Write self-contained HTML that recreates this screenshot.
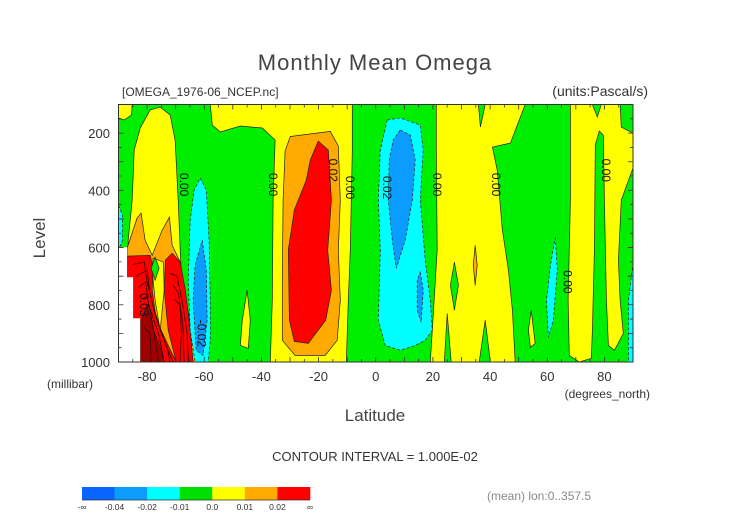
<!DOCTYPE html>
<html><head><meta charset="utf-8"><style>
body{margin:0;background:#fff;}
svg{display:block;font-family:"Liberation Sans",sans-serif;}
</style></head><body>
<svg id="chart" width="752" height="532" viewBox="0 0 752 532">
<text x="375" y="70" font-size="22" fill="#444" text-anchor="middle" letter-spacing="1">Monthly Mean Omega</text>
<text x="122" y="96" font-size="12" fill="#333">[OMEGA_1976-06_NCEP.nc]</text>
<text x="648" y="96" font-size="14" fill="#333" text-anchor="end">(units:Pascal/s)</text>
<text transform="translate(45,238) rotate(-90)" font-size="17" fill="#444" text-anchor="middle">Level</text>
<text x="47" y="388" font-size="12" fill="#333">(millibar)</text>
<text x="375" y="421" font-size="17" fill="#444" text-anchor="middle">Latitude</text>
<text x="650" y="398" font-size="12" fill="#333" text-anchor="end">(degrees_north)</text>
<text x="375" y="461" font-size="13" fill="#333" text-anchor="middle">CONTOUR INTERVAL = 1.000E-02</text>
<text x="487" y="500" font-size="12" fill="#888">(mean) lon:0..357.5</text>
<g id="plot"></g>
<g id="axes"></g>
<g id="cbar"></g>
</svg>
<script>
const latTicks=[-80,-60,-40,-20,0,20,40,60,80];
const levelTicks=[200,400,600,800,1000];
const cbarLabels=["-∞","-0.04","-0.02","-0.01","0.0","0.01","0.02","∞"];
const cbarColors=["#0a64ff","#0a9cff","#00ffff","#00e000","#ffff00","#ffaa00","#ff0000"];
const C={y:"#ffff00",o:"#ffaa00",r:"#ff0000",c:"#00ffff",b:"#0a9cff",g:"#00ee00",w:"#ffffff"};
// contour regions: [lat, level]
const regYellowTL=[[-90,100],[-85.2,100],[-85.5,137],[-88,154],[-90,147]];
const regCyanEdge=[[-90,452],[-88.6,487],[-88.6,574],[-90,609]];
const regYellowA=[[-82.4,182],[-78.9,119],[-75.4,109],[-71.9,137],[-70.2,224],[-69.1,434],[-68.4,609],[-67.7,749],[-66.3,889],[-64.2,977],[-63.5,1000],[-82.4,1000],[-84.9,784],[-86.6,679],[-86.6,574],[-85.2,434],[-84.5,259]];
const regOrangeA=[[-87,602],[-83.5,497],[-82.1,480],[-80.7,574],[-78.2,627],[-74.7,539],[-72.2,494],[-71.2,592],[-68.4,651],[-66.3,784],[-63.9,924],[-62.5,1000],[-87,1000]];
const regYellowDip=[[-77.9,637],[-74.3,651],[-74,749],[-75.4,889],[-77.2,784],[-78.2,679]];
const regRed1=[[-87,630],[-78.9,627],[-77.9,672],[-78.2,749],[-77.2,826],[-75.4,882],[-72.6,942],[-69.8,1000],[-87,1000]];
const regRed2=[[-73.6,644],[-71.2,620],[-68.4,651],[-66.6,749],[-64.9,889],[-63.9,1000],[-69.8,1000],[-72.6,889],[-74,749]];
const regGreenDiamond=[[-77.2,634],[-75.8,672],[-77.2,714],[-78.6,672]];
const regCyanL=[[-61.4,357],[-59.3,399],[-58.3,574],[-57.9,784],[-57.9,924],[-58.6,1000],[-63.2,1000],[-64.9,889],[-65.6,714],[-64.9,504],[-63.5,399]];
const regBlueL=[[-60.7,574],[-59.3,679],[-59,854],[-60.4,977],[-62.8,959],[-63.9,784],[-63.2,662]];
const regYellowTongue=[[-45,749],[-43.9,854],[-44.6,952],[-47.4,942],[-46.7,854]];
const regYellowB=[[-57.9,100],[-8.2,100],[-8.2,259],[-8.9,609],[-9.6,784],[-10.3,1000],[-36.9,1000],[-36.2,784],[-35.9,434],[-35.2,224],[-39.7,182],[-47.4,175],[-54.4,196],[-57.2,172]];
const regOrangeB=[[-29.9,212],[-15.9,194],[-13.1,245],[-12.4,434],[-13.1,609],[-12.4,784],[-13.5,924],[-17.7,977],[-28.2,977],[-32.7,924],[-32.7,714],[-32.4,434],[-31.7,262]];
const regRedB=[[-20.1,228],[-16.6,259],[-15.5,434],[-16.8,609],[-15.5,749],[-17.5,854],[-23.6,935],[-28.5,928],[-30.2,854],[-30.6,609],[-28.5,469],[-24.3,364],[-22.9,294]];
const regCyanC=[[4,154],[8.6,147],[15.6,172],[16.6,259],[15.6,434],[17.3,644],[19.1,784],[19.8,889],[17.3,924],[13.8,942],[8.6,959],[3.3,942],[0.9,854],[1.6,609],[0.9,434],[1.6,259]];
const regBlueC=[[8.6,189],[12.1,207],[13.8,294],[12.8,434],[10.3,574],[7.2,672],[5.8,574],[4.4,434],[4.7,294],[6.1,224]];
const regBlueSmall=[[15.6,686],[16.6,749],[15.9,861],[14.5,819],[14.5,714]];
const regYellowC=[[21.2,100],[35.9,100],[36.6,179],[38.3,100],[52.3,100],[47.1,235],[40.8,249],[42.5,329],[44.3,539],[46.4,679],[47.8,819],[48.8,1000],[19.1,1000],[19.8,889],[21.5,609],[21.2,259]];
const regGreenC1=[[27.5,651],[28.9,732],[27.5,819],[26.1,732]];
const regGreenC2=[[25,830],[26.4,1000],[24,1000]];
const regGreenC3=[[38.3,854],[40.1,1000],[36.2,1000]];
const regOrangeSliver=[[34.8,592],[35.5,662],[34.8,732],[34.1,662]];
const regYellowSpike=[[54.4,819],[55.8,935],[54.1,949],[53.4,889]];
const regCyanSpike=[[62.8,564],[63.5,679],[62.1,854],[60.4,914],[59.7,784],[61.1,662]];
const regCyanRight=[[90,655],[90,1000],[88.4,1000],[88.4,784]];
const regYellowD=[[68.1,100],[75.8,100],[77.5,144],[78.9,100],[85.5,100],[85.9,179],[90,200],[90,322],[85.9,434],[84.9,644],[85.5,784],[86.6,900],[83.5,959],[81.4,942],[80.7,784],[80,434],[79.6,207],[78.2,193],[76.8,242],[76.5,609],[75.8,889],[75.4,987],[71.2,1000],[67.7,977],[67.3,784],[68.1,434]];
const regMissing=[[-90,599],[-87,599],[-87,704],[-84.9,704],[-84.9,847],[-82.4,847],[-82.4,1000],[-90,1000]];
const regDarkCore=[[-82.4,860],[-80,800],[-78,880],[-75,960],[-74,1000],[-82.4,1000]];
const denseA=[[-84,700],[-80,680],[-79,760],[-77,840],[-73,950],[-72,1000]];
const denseB=[[-83,740],[-80.5,720],[-79.5,800],[-76,900],[-74,1000]];
const denseC=[[-82,780],[-80,770],[-78,870],[-76,1000]];
const denseD=[[-72,690],[-69.5,700],[-67.5,800],[-66,900],[-65.5,1000]];
const denseE=[[-71,730],[-69,760],[-67.5,870],[-67,1000]];
const denseF=[[-81,880],[-79,900],[-78.5,1000]];
const denseG=[[-70.5,780],[-68.5,800],[-68,900],[-68.5,1000]];
const denseH=[[-85,660],[-81,650],[-80,720],[-78,800],[-75,900],[-71,1000]];
const labels=[[-67,380,"0.00"],[-36,380,"0.00"],[-15,330,"0.02"],[-9,390,"0.00"],[4,390,"0.02"],[21.5,380,"0.00"],[42,380,"0.00"],[67,720,"0.00"],[80.5,330,"0.00"],[-81,800,"0.03"],[-61,900,"-0.02"]];

const X0=118.5,X1=633,Y0=104.5,Y1=362;
function xs(lat){return X0+(lat+90)/180*(X1-X0);}
function ys(p){return Y0+(p-100)/900*(Y1-Y0);}
const NS="http://www.w3.org/2000/svg";
const plot=document.getElementById('plot');
function pts(a){return a.map(d=>xs(d[0]).toFixed(1)+","+ys(d[1]).toFixed(1)).join(" ");}
const bg=document.createElementNS(NS,'rect');
bg.setAttribute('x',X0);bg.setAttribute('y',Y0);bg.setAttribute('width',X1-X0);bg.setAttribute('height',Y1-Y0);bg.setAttribute('fill',C.g);


plot.appendChild(bg);
const layers=[[regYellowTL,C.y,0,'yellow-top-left'],[regCyanEdge,C.c,1,'cyan-edge'],[regYellowA,C.y,0,'yellow-region-a'],[regOrangeA,C.o,0,'orange-region-a'],[regYellowDip,C.y,0,'yellow-dip'],[regRed1,C.r,0,'red-region-1'],[regRed2,C.r,0,'red-region-2'],[regDarkCore,'#a00000',0,'dark-red-core'],[regGreenDiamond,C.g,0,'green-diamond'],[regCyanL,C.c,1,'cyan-region-left'],[regBlueL,C.b,1,'blue-region-left'],[regYellowTongue,C.y,0,'yellow-tongue'],[regYellowB,C.y,0,'yellow-region-b'],[regOrangeB,C.o,0,'orange-region-b'],[regRedB,C.r,0,'red-region-b'],[regCyanC,C.c,1,'cyan-region-c'],[regBlueC,C.b,1,'blue-region-c'],[regBlueSmall,C.b,1,'blue-small'],[regYellowC,C.y,0,'yellow-region-c'],[regGreenC1,C.g,0,'green-spike-1'],[regGreenC2,C.g,0,'green-spike-2'],[regGreenC3,C.g,0,'green-spike-3'],[regOrangeSliver,C.o,0,'orange-sliver'],[regYellowSpike,C.y,0,'yellow-spike'],[regCyanSpike,C.c,1,'cyan-spike'],[regCyanRight,C.c,1,'cyan-right'],[regYellowD,C.y,0,'yellow-region-d']];
layers.forEach(L=>{
  const p=document.createElementNS(NS,'polygon');
  p.setAttribute('points',pts(L[0]));p.setAttribute('fill',L[1]);
  p.setAttribute('stroke','#222');p.setAttribute('stroke-width','0.7');
  if(L[2])p.setAttribute('stroke-dasharray','3,2');
  
  
  plot.appendChild(p);
});
[denseA,denseB,denseC,denseD,denseE,denseF,denseG,denseH].forEach(d=>{
  const l=document.createElementNS(NS,'polyline');
  l.setAttribute('points',pts(d));l.setAttribute('fill','none');l.setAttribute('stroke','#300');l.setAttribute('stroke-width','0.8');
  
  
  plot.appendChild(l);
});
const miss=document.createElementNS(NS,'polygon');
miss.setAttribute('points',pts(regMissing));miss.setAttribute('fill','#fff');


plot.appendChild(miss);
labels.forEach(t=>{
  const e=document.createElementNS(NS,'text');
  const x=xs(t[0]),y=ys(t[1]);
  e.setAttribute('transform','translate('+x.toFixed(1)+','+y.toFixed(1)+') rotate(90)');
  e.setAttribute('font-size','12');e.setAttribute('text-anchor','middle');e.setAttribute('dy','4');e.setAttribute('fill','#111');
  e.textContent=t[2];
  
  
  plot.appendChild(e);
});
const axes=document.getElementById('axes');
const fr=document.createElementNS(NS,'rect');
fr.setAttribute('x',X0);fr.setAttribute('y',Y0);fr.setAttribute('width',X1-X0);fr.setAttribute('height',Y1-Y0);fr.setAttribute('fill','none');fr.setAttribute('stroke','#333');fr.setAttribute('stroke-width','1');


axes.appendChild(fr);
let tk="";
for(let lat=-90;lat<=90;lat+=5){const x=xs(lat),len=lat%10===0?5:3;tk+=`M${x},${Y1}v${-len}M${x},${Y0}v${len}`;}
for(let p=100;p<=1000;p+=50){const y=ys(p),len=p%100===0?5:3;tk+=`M${X0},${y}h${len}M${X1},${y}h${-len}`;}
const tp=document.createElementNS(NS,'path');tp.setAttribute('d',tk);tp.setAttribute('stroke','#333');tp.setAttribute('stroke-width','0.8');


axes.appendChild(tp);
latTicks.forEach(v=>{
  const e=document.createElementNS(NS,'text');
  e.setAttribute('x',xs(v));e.setAttribute('y',381);e.setAttribute('font-size','13');e.setAttribute('text-anchor','middle');e.setAttribute('fill','#333');
  e.textContent=v;
  
  
  axes.appendChild(e);
});
levelTicks.forEach(v=>{
  const e=document.createElementNS(NS,'text');
  e.setAttribute('x',110);e.setAttribute('y',ys(v)+5);e.setAttribute('font-size','13');e.setAttribute('text-anchor','end');e.setAttribute('fill','#333');
  e.textContent=v;
  
  
  axes.appendChild(e);
});
const cb=document.getElementById('cbar');
const cbX=82,cbW=228,cbY=487,cbH=13,seg=cbW/cbarColors.length;
cbarColors.forEach((c,i)=>{
  const r=document.createElementNS(NS,'rect');
  r.setAttribute('x',cbX+i*seg);r.setAttribute('y',cbY);r.setAttribute('width',seg+0.3);r.setAttribute('height',cbH);r.setAttribute('fill',c);
  
  
  cb.appendChild(r);
});
const cbl=document.createElementNS(NS,'path');
cbl.setAttribute('d',`M${cbX},${cbY+cbH}h${cbW}`);cbl.setAttribute('stroke','#333');cbl.setAttribute('stroke-width','0.8');


cb.appendChild(cbl);
cbarLabels.forEach((s,i)=>{
  const e=document.createElementNS(NS,'text');
  e.setAttribute('x',cbX+i*seg);e.setAttribute('y',510);e.setAttribute('font-size','8.5');e.setAttribute('text-anchor','middle');e.setAttribute('fill','#333');
  e.textContent=s;
  
  
  cb.appendChild(e);
});
</script>
</body></html>
